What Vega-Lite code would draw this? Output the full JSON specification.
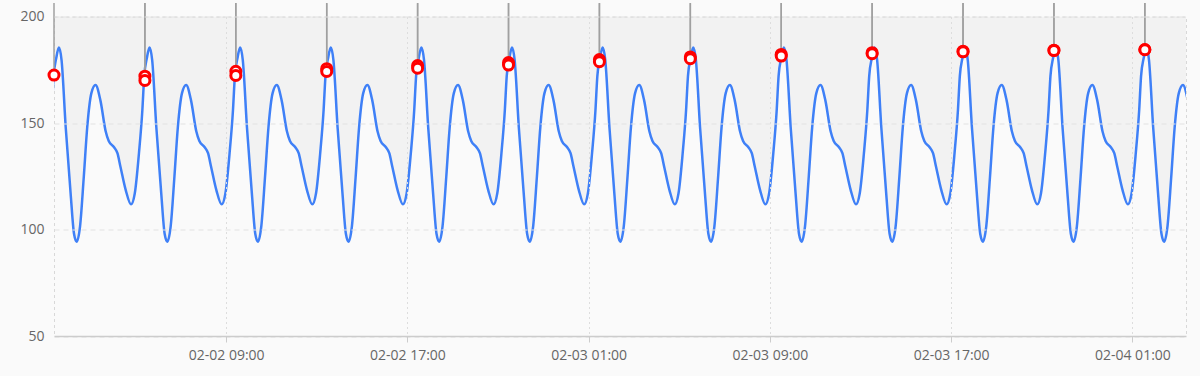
{
"$schema": "https://vega.github.io/schema/vega-lite/v6.json",
"width": 1132, "height": 319.5,
"autosize": {"type": "none"},
"padding": {"left": 54, "top": 16.5, "right": 14, "bottom": 40},
"background": "#fafafa",
"config": {"view": {"stroke": "#d8d8d8", "strokeDash": [3, 3], "fill": "#fafafa"}, "font": "Open Sans"},
"datasets": {
"line": [
{"t":"2024-02-02T00:58Z","v":117},{"t":"2024-02-02T01:09Z","v":135.8},{"t":"2024-02-02T01:18Z","v":156},{"t":"2024-02-02T01:23Z","v":172},{"t":"2024-02-02T01:30Z","v":180.5},
{"t":"2024-02-02T01:37Z","v":185.4},{"t":"2024-02-02T01:44Z","v":179.5},{"t":"2024-02-02T01:55Z","v":148},{"t":"2024-02-02T02:08Z","v":117},{"t":"2024-02-02T02:17Z","v":98},{"t":"2024-02-02T02:24Z","v":94.3},{"t":"2024-02-02T02:33Z","v":101.5},{"t":"2024-02-02T02:43Z","v":125},{"t":"2024-02-02T02:52Z","v":148},{"t":"2024-02-02T03:03Z","v":164},{"t":"2024-02-02T03:14Z","v":167.8},{"t":"2024-02-02T03:27Z","v":160.5},{"t":"2024-02-02T03:41Z","v":146},{"t":"2024-02-02T03:49Z","v":141.5},{"t":"2024-02-02T04:03Z","v":138.6},{"t":"2024-02-02T04:12Z","v":135.8},{"t":"2024-02-02T04:20Z","v":129.5},{"t":"2024-02-02T04:34Z","v":118.5},{"t":"2024-02-02T04:48Z","v":111.8},{"t":"2024-02-02T04:58Z","v":117},{"t":"2024-02-02T05:09Z","v":135.8},{"t":"2024-02-02T05:18Z","v":156},{"t":"2024-02-02T05:23Z","v":172},{"t":"2024-02-02T05:30Z","v":180.5},
{"t":"2024-02-02T05:37Z","v":185.4},{"t":"2024-02-02T05:44Z","v":179.5},{"t":"2024-02-02T05:55Z","v":148},{"t":"2024-02-02T06:08Z","v":117},{"t":"2024-02-02T06:17Z","v":98},{"t":"2024-02-02T06:24Z","v":94.3},{"t":"2024-02-02T06:33Z","v":101.5},{"t":"2024-02-02T06:43Z","v":125},{"t":"2024-02-02T06:52Z","v":148},{"t":"2024-02-02T07:03Z","v":164},{"t":"2024-02-02T07:14Z","v":167.8},{"t":"2024-02-02T07:27Z","v":160.5},{"t":"2024-02-02T07:41Z","v":146},{"t":"2024-02-02T07:49Z","v":141.5},{"t":"2024-02-02T08:03Z","v":138.6},{"t":"2024-02-02T08:12Z","v":135.8},{"t":"2024-02-02T08:20Z","v":129.5},{"t":"2024-02-02T08:34Z","v":118.5},{"t":"2024-02-02T08:48Z","v":111.8},{"t":"2024-02-02T08:58Z","v":117},{"t":"2024-02-02T09:09Z","v":135.8},{"t":"2024-02-02T09:18Z","v":156},{"t":"2024-02-02T09:23Z","v":172},{"t":"2024-02-02T09:30Z","v":180.5},
{"t":"2024-02-02T09:37Z","v":185.4},{"t":"2024-02-02T09:44Z","v":179.5},{"t":"2024-02-02T09:55Z","v":148},{"t":"2024-02-02T10:08Z","v":117},{"t":"2024-02-02T10:17Z","v":98},{"t":"2024-02-02T10:24Z","v":94.3},{"t":"2024-02-02T10:33Z","v":101.5},{"t":"2024-02-02T10:43Z","v":125},{"t":"2024-02-02T10:52Z","v":148},{"t":"2024-02-02T11:03Z","v":164},{"t":"2024-02-02T11:14Z","v":167.8},{"t":"2024-02-02T11:27Z","v":160.5},{"t":"2024-02-02T11:41Z","v":146},{"t":"2024-02-02T11:49Z","v":141.5},{"t":"2024-02-02T12:03Z","v":138.6},{"t":"2024-02-02T12:12Z","v":135.8},{"t":"2024-02-02T12:20Z","v":129.5},{"t":"2024-02-02T12:34Z","v":118.5},{"t":"2024-02-02T12:48Z","v":111.8},{"t":"2024-02-02T12:58Z","v":117},{"t":"2024-02-02T13:09Z","v":135.8},{"t":"2024-02-02T13:18Z","v":156},{"t":"2024-02-02T13:23Z","v":172},{"t":"2024-02-02T13:30Z","v":180.5},
{"t":"2024-02-02T13:37Z","v":185.4},{"t":"2024-02-02T13:44Z","v":179.5},{"t":"2024-02-02T13:55Z","v":148},{"t":"2024-02-02T14:08Z","v":117},{"t":"2024-02-02T14:17Z","v":98},{"t":"2024-02-02T14:24Z","v":94.3},{"t":"2024-02-02T14:33Z","v":101.5},{"t":"2024-02-02T14:43Z","v":125},{"t":"2024-02-02T14:52Z","v":148},{"t":"2024-02-02T15:03Z","v":164},{"t":"2024-02-02T15:14Z","v":167.8},{"t":"2024-02-02T15:27Z","v":160.5},{"t":"2024-02-02T15:41Z","v":146},{"t":"2024-02-02T15:49Z","v":141.5},{"t":"2024-02-02T16:03Z","v":138.6},{"t":"2024-02-02T16:12Z","v":135.8},{"t":"2024-02-02T16:20Z","v":129.5},{"t":"2024-02-02T16:34Z","v":118.5},{"t":"2024-02-02T16:48Z","v":111.8},{"t":"2024-02-02T16:58Z","v":117},{"t":"2024-02-02T17:09Z","v":135.8},{"t":"2024-02-02T17:18Z","v":156},{"t":"2024-02-02T17:23Z","v":172},{"t":"2024-02-02T17:30Z","v":180.5},
{"t":"2024-02-02T17:37Z","v":185.4},{"t":"2024-02-02T17:44Z","v":179.5},{"t":"2024-02-02T17:55Z","v":148},{"t":"2024-02-02T18:08Z","v":117},{"t":"2024-02-02T18:17Z","v":98},{"t":"2024-02-02T18:24Z","v":94.3},{"t":"2024-02-02T18:33Z","v":101.5},{"t":"2024-02-02T18:43Z","v":125},{"t":"2024-02-02T18:52Z","v":148},{"t":"2024-02-02T19:03Z","v":164},{"t":"2024-02-02T19:14Z","v":167.8},{"t":"2024-02-02T19:27Z","v":160.5},{"t":"2024-02-02T19:41Z","v":146},{"t":"2024-02-02T19:49Z","v":141.5},{"t":"2024-02-02T20:03Z","v":138.6},{"t":"2024-02-02T20:12Z","v":135.8},{"t":"2024-02-02T20:20Z","v":129.5},{"t":"2024-02-02T20:34Z","v":118.5},{"t":"2024-02-02T20:48Z","v":111.8},{"t":"2024-02-02T20:58Z","v":117},{"t":"2024-02-02T21:09Z","v":135.8},{"t":"2024-02-02T21:18Z","v":156},{"t":"2024-02-02T21:23Z","v":172},{"t":"2024-02-02T21:30Z","v":180.5},
{"t":"2024-02-02T21:37Z","v":185.4},{"t":"2024-02-02T21:44Z","v":179.5},{"t":"2024-02-02T21:55Z","v":148},{"t":"2024-02-02T22:08Z","v":117},{"t":"2024-02-02T22:17Z","v":98},{"t":"2024-02-02T22:24Z","v":94.3},{"t":"2024-02-02T22:33Z","v":101.5},{"t":"2024-02-02T22:43Z","v":125},{"t":"2024-02-02T22:52Z","v":148},{"t":"2024-02-02T23:03Z","v":164},{"t":"2024-02-02T23:14Z","v":167.8},{"t":"2024-02-02T23:27Z","v":160.5},{"t":"2024-02-02T23:41Z","v":146},{"t":"2024-02-02T23:49Z","v":141.5},{"t":"2024-02-03T00:03Z","v":138.6},{"t":"2024-02-03T00:12Z","v":135.8},{"t":"2024-02-03T00:20Z","v":129.5},{"t":"2024-02-03T00:34Z","v":118.5},{"t":"2024-02-03T00:48Z","v":111.8},{"t":"2024-02-03T00:58Z","v":117},{"t":"2024-02-03T01:09Z","v":135.8},{"t":"2024-02-03T01:18Z","v":156},{"t":"2024-02-03T01:23Z","v":172},{"t":"2024-02-03T01:30Z","v":180.5},
{"t":"2024-02-03T01:37Z","v":185.4},{"t":"2024-02-03T01:44Z","v":179.5},{"t":"2024-02-03T01:55Z","v":148},{"t":"2024-02-03T02:08Z","v":117},{"t":"2024-02-03T02:17Z","v":98},{"t":"2024-02-03T02:24Z","v":94.3},{"t":"2024-02-03T02:33Z","v":101.5},{"t":"2024-02-03T02:43Z","v":125},{"t":"2024-02-03T02:52Z","v":148},{"t":"2024-02-03T03:03Z","v":164},{"t":"2024-02-03T03:14Z","v":167.8},{"t":"2024-02-03T03:27Z","v":160.5},{"t":"2024-02-03T03:41Z","v":146},{"t":"2024-02-03T03:49Z","v":141.5},{"t":"2024-02-03T04:03Z","v":138.6},{"t":"2024-02-03T04:12Z","v":135.8},{"t":"2024-02-03T04:20Z","v":129.5},{"t":"2024-02-03T04:34Z","v":118.5},{"t":"2024-02-03T04:48Z","v":111.8},{"t":"2024-02-03T04:58Z","v":117},{"t":"2024-02-03T05:09Z","v":135.8},{"t":"2024-02-03T05:18Z","v":156},{"t":"2024-02-03T05:23Z","v":172},{"t":"2024-02-03T05:30Z","v":180.5},
{"t":"2024-02-03T05:37Z","v":185.4},{"t":"2024-02-03T05:44Z","v":179.5},{"t":"2024-02-03T05:55Z","v":148},{"t":"2024-02-03T06:08Z","v":117},{"t":"2024-02-03T06:17Z","v":98},{"t":"2024-02-03T06:24Z","v":94.3},{"t":"2024-02-03T06:33Z","v":101.5},{"t":"2024-02-03T06:43Z","v":125},{"t":"2024-02-03T06:52Z","v":148},{"t":"2024-02-03T07:03Z","v":164},{"t":"2024-02-03T07:14Z","v":167.8},{"t":"2024-02-03T07:27Z","v":160.5},{"t":"2024-02-03T07:41Z","v":146},{"t":"2024-02-03T07:49Z","v":141.5},{"t":"2024-02-03T08:03Z","v":138.6},{"t":"2024-02-03T08:12Z","v":135.8},{"t":"2024-02-03T08:20Z","v":129.5},{"t":"2024-02-03T08:34Z","v":118.5},{"t":"2024-02-03T08:48Z","v":111.8},{"t":"2024-02-03T08:58Z","v":117},{"t":"2024-02-03T09:09Z","v":135.8},{"t":"2024-02-03T09:18Z","v":156},{"t":"2024-02-03T09:23Z","v":172},{"t":"2024-02-03T09:30Z","v":180.5},
{"t":"2024-02-03T09:37Z","v":185.4},{"t":"2024-02-03T09:44Z","v":179.5},{"t":"2024-02-03T09:55Z","v":148},{"t":"2024-02-03T10:08Z","v":117},{"t":"2024-02-03T10:17Z","v":98},{"t":"2024-02-03T10:24Z","v":94.3},{"t":"2024-02-03T10:33Z","v":101.5},{"t":"2024-02-03T10:43Z","v":125},{"t":"2024-02-03T10:52Z","v":148},{"t":"2024-02-03T11:03Z","v":164},{"t":"2024-02-03T11:14Z","v":167.8},{"t":"2024-02-03T11:27Z","v":160.5},{"t":"2024-02-03T11:41Z","v":146},{"t":"2024-02-03T11:49Z","v":141.5},{"t":"2024-02-03T12:03Z","v":138.6},{"t":"2024-02-03T12:12Z","v":135.8},{"t":"2024-02-03T12:20Z","v":129.5},{"t":"2024-02-03T12:34Z","v":118.5},{"t":"2024-02-03T12:48Z","v":111.8},{"t":"2024-02-03T12:58Z","v":117},{"t":"2024-02-03T13:09Z","v":135.8},{"t":"2024-02-03T13:18Z","v":156},{"t":"2024-02-03T13:23Z","v":172},{"t":"2024-02-03T13:30Z","v":180.5},
{"t":"2024-02-03T13:37Z","v":185.4},{"t":"2024-02-03T13:44Z","v":179.5},{"t":"2024-02-03T13:55Z","v":148},{"t":"2024-02-03T14:08Z","v":117},{"t":"2024-02-03T14:17Z","v":98},{"t":"2024-02-03T14:24Z","v":94.3},{"t":"2024-02-03T14:33Z","v":101.5},{"t":"2024-02-03T14:43Z","v":125},{"t":"2024-02-03T14:52Z","v":148},{"t":"2024-02-03T15:03Z","v":164},{"t":"2024-02-03T15:14Z","v":167.8},{"t":"2024-02-03T15:27Z","v":160.5},{"t":"2024-02-03T15:41Z","v":146},{"t":"2024-02-03T15:49Z","v":141.5},{"t":"2024-02-03T16:03Z","v":138.6},{"t":"2024-02-03T16:12Z","v":135.8},{"t":"2024-02-03T16:20Z","v":129.5},{"t":"2024-02-03T16:34Z","v":118.5},{"t":"2024-02-03T16:48Z","v":111.8},{"t":"2024-02-03T16:58Z","v":117},{"t":"2024-02-03T17:09Z","v":135.8},{"t":"2024-02-03T17:18Z","v":156},{"t":"2024-02-03T17:23Z","v":172},{"t":"2024-02-03T17:30Z","v":180.5},
{"t":"2024-02-03T17:37Z","v":185.4},{"t":"2024-02-03T17:44Z","v":179.5},{"t":"2024-02-03T17:55Z","v":148},{"t":"2024-02-03T18:08Z","v":117},{"t":"2024-02-03T18:17Z","v":98},{"t":"2024-02-03T18:24Z","v":94.3},{"t":"2024-02-03T18:33Z","v":101.5},{"t":"2024-02-03T18:43Z","v":125},{"t":"2024-02-03T18:52Z","v":148},{"t":"2024-02-03T19:03Z","v":164},{"t":"2024-02-03T19:14Z","v":167.8},{"t":"2024-02-03T19:27Z","v":160.5},{"t":"2024-02-03T19:41Z","v":146},{"t":"2024-02-03T19:49Z","v":141.5},{"t":"2024-02-03T20:03Z","v":138.6},{"t":"2024-02-03T20:12Z","v":135.8},{"t":"2024-02-03T20:20Z","v":129.5},{"t":"2024-02-03T20:34Z","v":118.5},{"t":"2024-02-03T20:48Z","v":111.8},{"t":"2024-02-03T20:58Z","v":117},{"t":"2024-02-03T21:09Z","v":135.8},{"t":"2024-02-03T21:18Z","v":156},{"t":"2024-02-03T21:23Z","v":172},{"t":"2024-02-03T21:30Z","v":180.5},
{"t":"2024-02-03T21:37Z","v":185.4},{"t":"2024-02-03T21:44Z","v":179.5},{"t":"2024-02-03T21:55Z","v":148},{"t":"2024-02-03T22:08Z","v":117},{"t":"2024-02-03T22:17Z","v":98},{"t":"2024-02-03T22:24Z","v":94.3},{"t":"2024-02-03T22:33Z","v":101.5},{"t":"2024-02-03T22:43Z","v":125},{"t":"2024-02-03T22:52Z","v":148},{"t":"2024-02-03T23:03Z","v":164},{"t":"2024-02-03T23:14Z","v":167.8},{"t":"2024-02-03T23:27Z","v":160.5},{"t":"2024-02-03T23:41Z","v":146},{"t":"2024-02-03T23:49Z","v":141.5},{"t":"2024-02-04T00:03Z","v":138.6},{"t":"2024-02-04T00:12Z","v":135.8},{"t":"2024-02-04T00:20Z","v":129.5},{"t":"2024-02-04T00:34Z","v":118.5},{"t":"2024-02-04T00:48Z","v":111.8},{"t":"2024-02-04T00:58Z","v":117},{"t":"2024-02-04T01:09Z","v":135.8},{"t":"2024-02-04T01:18Z","v":156},{"t":"2024-02-04T01:23Z","v":172},{"t":"2024-02-04T01:30Z","v":180.5},
{"t":"2024-02-04T01:37Z","v":185.4},{"t":"2024-02-04T01:44Z","v":179.5},{"t":"2024-02-04T01:55Z","v":148},{"t":"2024-02-04T02:08Z","v":117},{"t":"2024-02-04T02:17Z","v":98},{"t":"2024-02-04T02:24Z","v":94.3},{"t":"2024-02-04T02:33Z","v":101.5},{"t":"2024-02-04T02:43Z","v":125},{"t":"2024-02-04T02:52Z","v":148},{"t":"2024-02-04T03:03Z","v":164},{"t":"2024-02-04T03:14Z","v":167.8},{"t":"2024-02-04T03:27Z","v":160.5},{"t":"2024-02-04T03:41Z","v":146}
],
"pts": [
{"t":"2024-02-02T01:24:00Z","v":172.5},
{"t":"2024-02-02T05:24:45Z","v":172.0},{"t":"2024-02-02T05:24:45Z","v":170.0},
{"t":"2024-02-02T09:25:30Z","v":174.3},{"t":"2024-02-02T09:25:30Z","v":172.3},
{"t":"2024-02-02T13:26:15Z","v":175.5},{"t":"2024-02-02T13:26:15Z","v":174.2},
{"t":"2024-02-02T17:27:00Z","v":177.0},{"t":"2024-02-02T17:27:00Z","v":175.7},
{"t":"2024-02-02T21:27:45Z","v":178.4},{"t":"2024-02-02T21:27:45Z","v":177.2},
{"t":"2024-02-03T01:28:30Z","v":179.8},{"t":"2024-02-03T01:28:30Z","v":178.8},
{"t":"2024-02-03T05:29:15Z","v":181.0},{"t":"2024-02-03T05:29:15Z","v":180.2},
{"t":"2024-02-03T09:30:00Z","v":182.2},{"t":"2024-02-03T09:30:00Z","v":181.4},
{"t":"2024-02-03T13:30:45Z","v":183.0},{"t":"2024-02-03T13:30:45Z","v":182.5},
{"t":"2024-02-03T17:31:30Z","v":183.7},{"t":"2024-02-03T17:31:30Z","v":183.4},
{"t":"2024-02-03T21:32:15Z","v":184.2},{"t":"2024-02-03T21:32:15Z","v":184.0},
{"t":"2024-02-04T01:33:00Z","v":184.5},{"t":"2024-02-04T01:33:00Z","v":184.4}
]
},
"layer": [
{
"data": {"name": "line"},
"mark": {"type": "area", "interpolate": "monotone", "fill": "#000000", "fillOpacity": 0.03, "clip": true},
"encoding": {
"x": {"field": "t", "type": "temporal",
  "scale": {"type": "utc", "domain": [{"year": 2024, "month": 2, "date": 2, "hours": 1, "minutes": 24, "utc": true}, {"year": 2024, "month": 2, "date": 4, "hours": 3, "minutes": 22, "utc": true}]},
  "axis": {"title": null, "format": "%m-%d %H:%M", "zindex": 1,
    "values": [{"year": 2024, "month": 2, "date": 2, "hours": 9, "utc": true}, {"year": 2024, "month": 2, "date": 2, "hours": 17, "utc": true}, {"year": 2024, "month": 2, "date": 3, "hours": 1, "utc": true}, {"year": 2024, "month": 2, "date": 3, "hours": 9, "utc": true}, {"year": 2024, "month": 2, "date": 3, "hours": 17, "utc": true}, {"year": 2024, "month": 2, "date": 4, "hours": 1, "utc": true}],
    "domainColor": "#cccccc", "domainWidth": 1.5, "tickColor": "#cccccc", "tickSize": 6, "tickWidth": 1,
    "labelColor": "#666666", "labelFontSize": 14, "labelPadding": 6, "labelFont": "Open Sans",
    "grid": true, "gridColor": "#dddddd", "gridDash": [2, 3], "gridWidth": 1}},
"y": {"field": "v", "type": "quantitative",
  "scale": {"domain": [50, 200], "nice": false, "zero": false},
  "axis": {"title": null, "values": [50, 100, 150, 200], "domain": false, "ticks": false, "zindex": 1,
    "labelColor": "#666666", "labelFontSize": 14, "labelPadding": 10, "labelFont": "Open Sans",
    "grid": true, "gridColor": "#e2e2e2", "gridDash": [5, 4], "gridWidth": 1}},
"y2": {"datum": 200}
}
},
{
"data": {"name": "line"},
"mark": {"type": "line", "interpolate": "monotone", "color": "#3f80f7", "strokeWidth": 2.5, "clip": true},
"encoding": {
"x": {"field": "t", "type": "temporal"},
"y": {"field": "v", "type": "quantitative"}
}
},
{
"data": {"name": "pts"},
"mark": {"type": "rule", "color": "#a0a0a0", "strokeWidth": 1.5},
"encoding": {
"x": {"field": "t", "type": "temporal"},
"y": {"field": "v", "type": "quantitative"},
"y2": {"datum": 206.3}
}
},
{
"data": {"name": "pts"},
"mark": {"type": "point", "shape": "circle", "filled": false, "fill": "#ffffff", "fillOpacity": 1, "stroke": "#ff0000", "strokeOpacity": 1, "strokeWidth": 3, "size": 100},
"encoding": {
"x": {"field": "t", "type": "temporal"},
"y": {"field": "v", "type": "quantitative"}
}
}
]
}
